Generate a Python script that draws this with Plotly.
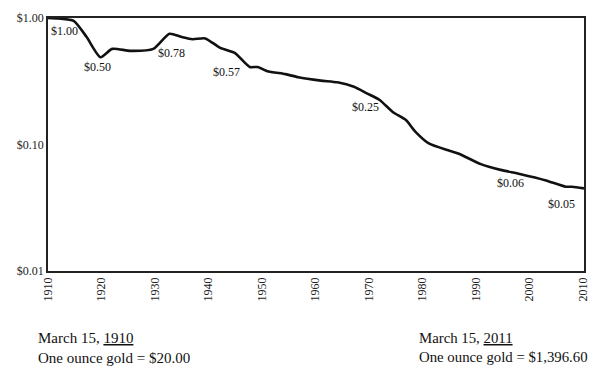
import plotly.graph_objects as go

years = [1910, 1912, 1914.8, 1917.2, 1919.8, 1922, 1925.4, 1929.7, 1932.7, 1934.9,
         1937, 1939.4, 1942.2, 1944.9, 1947.7, 1949.2, 1951, 1954.4, 1956.8, 1961,
         1964.1, 1967.2, 1969.6, 1972, 1974.5, 1976.9, 1978.7, 1981.2, 1984.8, 1986.7,
         1990.9, 1994.6, 1998.2, 2003.1, 2006.8, 2008, 2010.2]
values = [1.00, 0.99, 0.95, 0.71, 0.49, 0.57, 0.55, 0.57, 0.75, 0.71,
          0.68, 0.69, 0.58, 0.53, 0.41, 0.41, 0.38, 0.36, 0.34, 0.32,
          0.31, 0.286, 0.254, 0.225, 0.18, 0.156, 0.126, 0.102, 0.09, 0.085,
          0.07, 0.063, 0.0585, 0.052, 0.0464, 0.0464, 0.045]

label_text = ["$1.00", "$0.50", "$0.78", "$0.57", "$0.25", "$0.06", "$0.05"]
label_year = [1913.0, 1919.3, 1933.0, 1943.4, 1969.3, 1996.4, 2005.9]
label_log = [-0.103, -0.385, -0.279, -0.424, -0.701, -1.307, -1.470]

x_ticks = list(range(1910, 2011, 10))
y_tickvals = [0.01, 0.1, 1.0]
y_ticktext = ["$0.01", "$0.10", "$1.00"]

SERIF = "Liberation Serif, Times New Roman, serif"

fig = go.Figure()
fig.add_trace(go.Scatter(x=years, y=values, mode="lines",
                         line=dict(color="#111", width=2.6, shape="spline", smoothing=0.6),
                         showlegend=False, hoverinfo="skip"))

for t, xv, yv in zip(label_text, label_year, label_log):
    fig.add_annotation(x=xv, y=yv, xref="x", yref="y", text=t, showarrow=False,
                       font=dict(family=SERIF, size=12, color="#111"))

fig.add_annotation(x=-0.022, y=-0.227, xref="paper", yref="paper", xanchor="left", yanchor="top",
                   align="left", showarrow=False,
                   text="March 15, <u>1910</u><br>One ounce gold = $20.00",
                   font=dict(family=SERIF, size=15, color="#111"))
fig.add_annotation(x=0.689, y=-0.227, xref="paper", yref="paper", xanchor="left", yanchor="top",
                   align="left", showarrow=False,
                   text="March 15, <u>2011</u><br>One ounce gold = $1,396.60",
                   font=dict(family=SERIF, size=14.8, color="#111"))

fig.update_xaxes(range=[1910, 2010.2], tickvals=x_ticks, ticktext=[str(v) for v in x_ticks],
                 tickangle=-90, showgrid=False, zeroline=False, showline=True,
                 linecolor="#222", linewidth=1.5, mirror=True, ticks="",
                 ticklabeloverflow="allow",
                 tickfont=dict(family=SERIF, size=12, color="#222"))
fig.update_yaxes(type="log", range=[-2, 0], tickvals=y_tickvals, ticktext=y_ticktext,
                 showgrid=False, zeroline=False, showline=True,
                 linecolor="#222", linewidth=1.5, mirror=True, ticks="",
                 ticklabeloverflow="allow",
                 tickfont=dict(family=SERIF, size=12, color="#222"))

fig.update_layout(width=584, height=359, margin=dict(l=40, r=2, t=10, b=96),
                  plot_bgcolor="white", paper_bgcolor="white")

fig.write_html("out.html")
